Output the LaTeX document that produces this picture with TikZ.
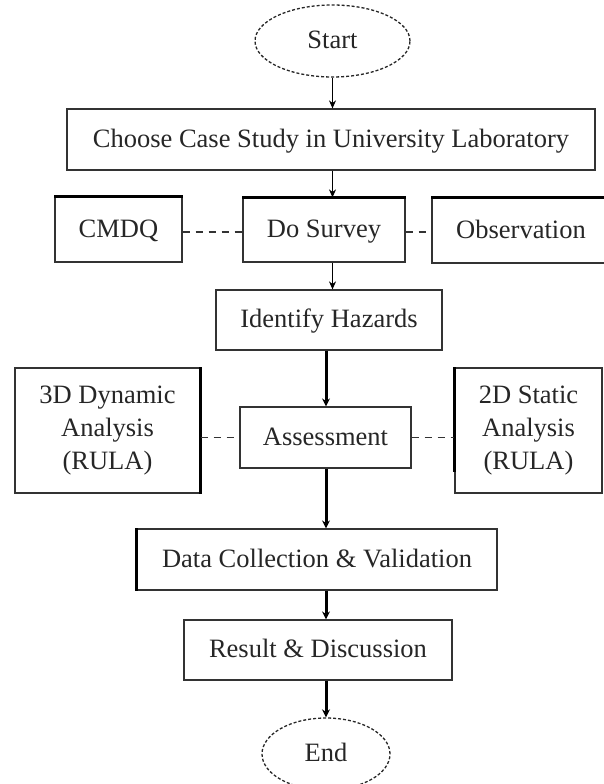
\documentclass[tikz,border=0pt]{standalone}
\usepackage{fontspec}
\setmainfont{Liberation Serif}
\usetikzlibrary{arrows.meta,shapes.geometric}
\begin{document}
\begin{tikzpicture}[x=1pt,y=-1pt,
  every node/.style={font=\fontsize{26.5}{33}\selectfont, text=black!85},
  box/.style={draw=black!80, line width=1.2pt, rectangle, inner sep=0pt, align=center},
  one/.style={text height=19pt, text depth=4pt},
  oval/.style={draw=black!85, line width=1.3pt, ellipse, inner sep=0pt, dash pattern=on 3pt off 2pt, text height=19pt, text depth=4pt},
  arr/.style={draw=black, line width=1.3pt, -{Stealth[length=8pt,width=7pt]}},
  arrthick/.style={draw=black, line width=3pt, -{Stealth[length=8pt,width=8pt]}},
  link/.style={draw=black!80, line width=1.2pt, dash pattern=on 7pt off 6pt},
  heavy/.style={draw=black, line width=3.2pt}
]
\useasboundingbox (0,0) rectangle (603,784);

\node[oval, minimum width=155pt, minimum height=72pt] (start) at (332.5,41) {Start};
\node[box, one, minimum width=528pt, minimum height=61pt] (choose) at (331,139.5) {Choose Case Study in University Laboratory};
\node[box, one, minimum width=127pt, minimum height=65pt] (cmdq) at (118.5,229.5) {CMDQ};
\node[box, one, minimum width=162pt, minimum height=64pt] (survey) at (324,230) {Do Survey};
\node[box, one, minimum width=178pt, minimum height=65pt] (obs) at (521,230.5) {Observation};
\node[box, one, minimum width=226pt, minimum height=60pt] (identify) at (329,320) {Identify Hazards};
\node[box, minimum width=185pt, minimum height=125pt] (dyn) at (107.5,430.5) {3D Dynamic\\Analysis\\(RULA)};
\node[box, one, minimum width=171pt, minimum height=61pt] (assess) at (325.5,437.5) {Assessment};
\node[box, minimum width=147pt, minimum height=125pt] (stat) at (528.5,430.5) {2D Static\\Analysis\\(RULA)};
\node[box, one, minimum width=360pt, minimum height=61pt] (data) at (317,559.5) {Data Collection \& Validation};
\node[box, one, minimum width=268pt, minimum height=60pt] (result) at (318,650) {Result \& Discussion};
\node[oval, minimum width=128pt, minimum height=72pt] (end) at (326,754) {End};

% heavy edges
\draw[heavy] (cmdq.north west) -- (cmdq.north east);
\draw[heavy] (survey.north west) -- (survey.north east);
\draw[heavy] (obs.north west) -- (obs.north east);
\draw[heavy] (dyn.north east) -- (dyn.south east);
\draw[heavy] (stat.north west) -- ([yshift=22pt]stat.south west);
\draw[heavy] (data.north west) -- (data.south west);

% main flow
\draw[arr] (start.south) -- (start.south |- choose.north);
\draw[arr] (choose.south -| start.south) -- (survey.north -| start.south);
\draw[arr] (survey.south -| start.south) -- (identify.north -| start.south);
\draw[arrthick] (identify.south -| end.north) -- (assess.north -| end.north);
\draw[arrthick] (assess.south -| end.north) -- (data.north -| end.north);
\draw[arrthick] (data.south -| end.north) -- (result.north -| end.north);
\draw[arrthick] (result.south -| end.north) -- (end.north);

% side links
\draw[link] (cmdq.east |- 0,232) -- (survey.west |- 0,232);
\draw[link] (survey.east |- 0,232) -- (obs.west |- 0,232);
\draw[link] (dyn.east |- assess.west) -- (assess.west);
\draw[link] (assess.east) -- (stat.west |- assess.east);
\end{tikzpicture}
\end{document}
